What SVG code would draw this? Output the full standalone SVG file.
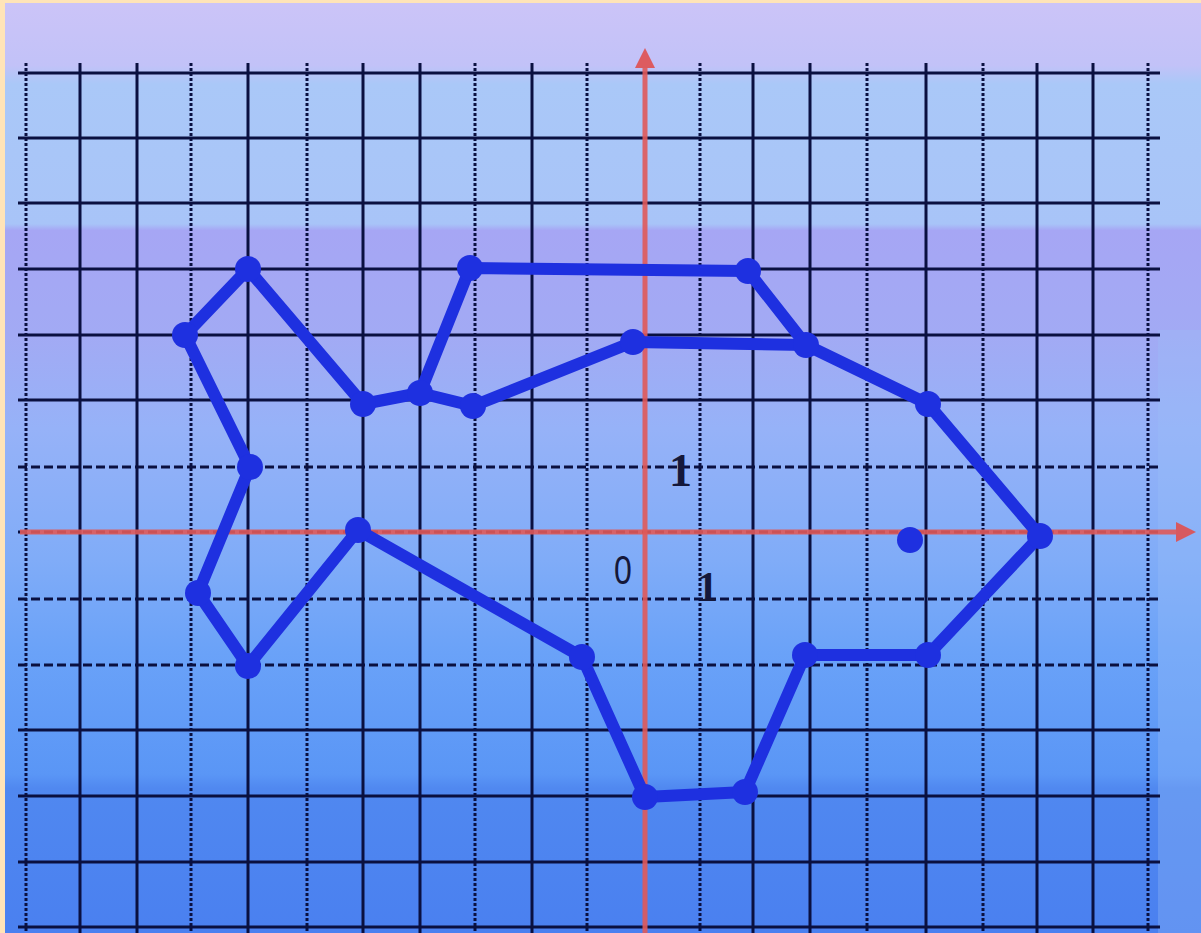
<svg xmlns="http://www.w3.org/2000/svg" width="1201" height="933" viewBox="0 0 1201 933">
<defs>
<linearGradient id="bg" x1="0" y1="0" x2="0" y2="1">
<stop offset="0" stop-color="#CCC4F8"/>
<stop offset="0.07" stop-color="#C2C2F8"/>
<stop offset="0.09" stop-color="#AAC8F8"/>
<stop offset="0.24" stop-color="#A8C4F8"/>
<stop offset="0.247" stop-color="#A6A6F4"/>
<stop offset="0.36" stop-color="#A2AAF4"/>
<stop offset="0.46" stop-color="#96B2F8"/>
<stop offset="0.6" stop-color="#80ACF8"/>
<stop offset="0.7" stop-color="#6AA2F8"/>
<stop offset="0.83" stop-color="#5A96F6"/>
<stop offset="0.845" stop-color="#5088F0"/>
<stop offset="1" stop-color="#4A80F0"/>
</linearGradient>
<marker id="arr" viewBox="0 0 10 10" refX="5" refY="5" markerWidth="4" markerHeight="4" orient="auto">
<path d="M0,0 L10,5 L0,10 Z" fill="#E05050"/>
</marker>
<style>
.g{stroke:#0A1040;stroke-width:3;fill:none}
.d{stroke-dasharray:3,2}
.h{stroke-dasharray:9,4}
.ax{stroke:#E05A5A;stroke-width:5;fill:none;opacity:0.9}
.fish{stroke:#1E30E0;stroke-width:12;fill:none;stroke-linejoin:round;stroke-linecap:round}
.pt{fill:#1E30E0}
.lbl{font-family:"Liberation Serif",serif;fill:#15183A}
</style>
</defs>
<rect x="0" y="0" width="1201" height="933" fill="url(#bg)"/>
<rect x="1158" y="330" width="43" height="603" fill="#9CC0FA" opacity="0.3"/>
<rect x="0" y="0" width="1201" height="3" fill="#FFE4B8"/>
<rect x="0" y="0" width="5" height="933" fill="#FFE4B8"/>
<g id="grid">
<g class="g">
<line x1="18" y1="73" x2="1160" y2="73"/>
<line x1="18" y1="138" x2="1160" y2="138"/>
<line x1="18" y1="203" x2="1160" y2="203"/>
<line x1="18" y1="269" x2="1160" y2="269"/>
<line x1="18" y1="335" x2="1160" y2="335"/>
<line x1="18" y1="400" x2="1160" y2="400"/>
<line x1="18" y1="467" x2="1160" y2="467" class="g h"/>
<line x1="18" y1="532" x2="1160" y2="532" class="g h"/>
<line x1="18" y1="599" x2="1160" y2="599" class="g h"/>
<line x1="18" y1="665" x2="1160" y2="665" class="g h"/>
<line x1="18" y1="730" x2="1160" y2="730"/>
<line x1="18" y1="796" x2="1160" y2="796"/>
<line x1="18" y1="862" x2="1160" y2="862"/>
<line x1="18" y1="927" x2="1160" y2="927"/>
<line x1="26" y1="63" x2="26" y2="933" class="g d"/>
<line x1="80" y1="63" x2="80" y2="933"/>
<line x1="137" y1="63" x2="137" y2="933"/>
<line x1="191" y1="63" x2="191" y2="933" class="g d"/>
<line x1="248" y1="63" x2="248" y2="933"/>
<line x1="307" y1="63" x2="307" y2="933" class="g d"/>
<line x1="363" y1="63" x2="363" y2="933"/>
<line x1="420" y1="63" x2="420" y2="933"/>
<line x1="475" y1="63" x2="475" y2="933" class="g d"/>
<line x1="532" y1="63" x2="532" y2="933"/>
<line x1="587" y1="63" x2="587" y2="933" class="g d"/>
<line x1="700" y1="63" x2="700" y2="933" class="g d"/>
<line x1="753" y1="63" x2="753" y2="933"/>
<line x1="810" y1="63" x2="810" y2="933"/>
<line x1="867" y1="63" x2="867" y2="933" class="g d"/>
<line x1="926" y1="63" x2="926" y2="933"/>
<line x1="983" y1="63" x2="983" y2="933" class="g d"/>
<line x1="1037" y1="63" x2="1037" y2="933"/>
<line x1="1093" y1="63" x2="1093" y2="933"/>
<line x1="1148" y1="63" x2="1148" y2="933" class="g d"/>
</g>
</g>
<g id="axes">
<line class="ax" x1="20" y1="532" x2="1186" y2="532" marker-end="url(#arr)"/>
<line class="ax" x1="645" y1="933" x2="645" y2="58" marker-end="url(#arr)"/>
</g>
<g id="connectors">
<path class="fish" d="M248,269 L363,404 L420,393 L473,406 L633,342 L806,345 L928,404 L1040,536 L928,655 L805,655 L745,792 L645,797 L582,657 L358,530 L248,666 L198,593 L250,467 L185,335 Z"/>
<path class="fish" d="M420,393 L470,268 L748,271 L806,345"/>
</g>
<g id="points">
<circle id="p1" class="pt" cx="248" cy="269" r="13"/>
<circle id="p2" class="pt" cx="185" cy="335" r="13"/>
<circle id="p3" class="pt" cx="250" cy="467" r="13"/>
<circle id="p4" class="pt" cx="363" cy="404" r="13"/>
<circle id="p5" class="pt" cx="420" cy="393" r="13"/>
<circle id="p6" class="pt" cx="470" cy="268" r="13"/>
<circle id="p7" class="pt" cx="473" cy="406" r="13"/>
<circle id="p8" class="pt" cx="633" cy="342" r="13"/>
<circle id="p9" class="pt" cx="748" cy="271" r="13"/>
<circle id="p10" class="pt" cx="806" cy="345" r="13"/>
<circle id="p11" class="pt" cx="928" cy="404" r="13"/>
<circle id="p12" class="pt" cx="1040" cy="536" r="13"/>
<circle id="p13" class="pt" cx="910" cy="540" r="13"/>
<circle id="p14" class="pt" cx="928" cy="655" r="13"/>
<circle id="p15" class="pt" cx="805" cy="655" r="13"/>
<circle id="p16" class="pt" cx="745" cy="792" r="13"/>
<circle id="p17" class="pt" cx="645" cy="797" r="13"/>
<circle id="p18" class="pt" cx="582" cy="657" r="13"/>
<circle id="p19" class="pt" cx="358" cy="530" r="13"/>
<circle id="p20" class="pt" cx="248" cy="666" r="13"/>
<circle id="p21" class="pt" cx="198" cy="593" r="13"/>
</g>
<g id="labels">
<text class="lbl" x="669" y="486" font-size="46" font-weight="bold">1</text>
<text class="lbl" x="614" y="584" font-size="40" style="font-family:'Liberation Sans',sans-serif" transform="translate(614,584) scale(0.8,1) translate(-614,-584)">0</text>
<text class="lbl" x="697" y="601" font-size="42" font-weight="bold">1</text>
</g>
</svg>
